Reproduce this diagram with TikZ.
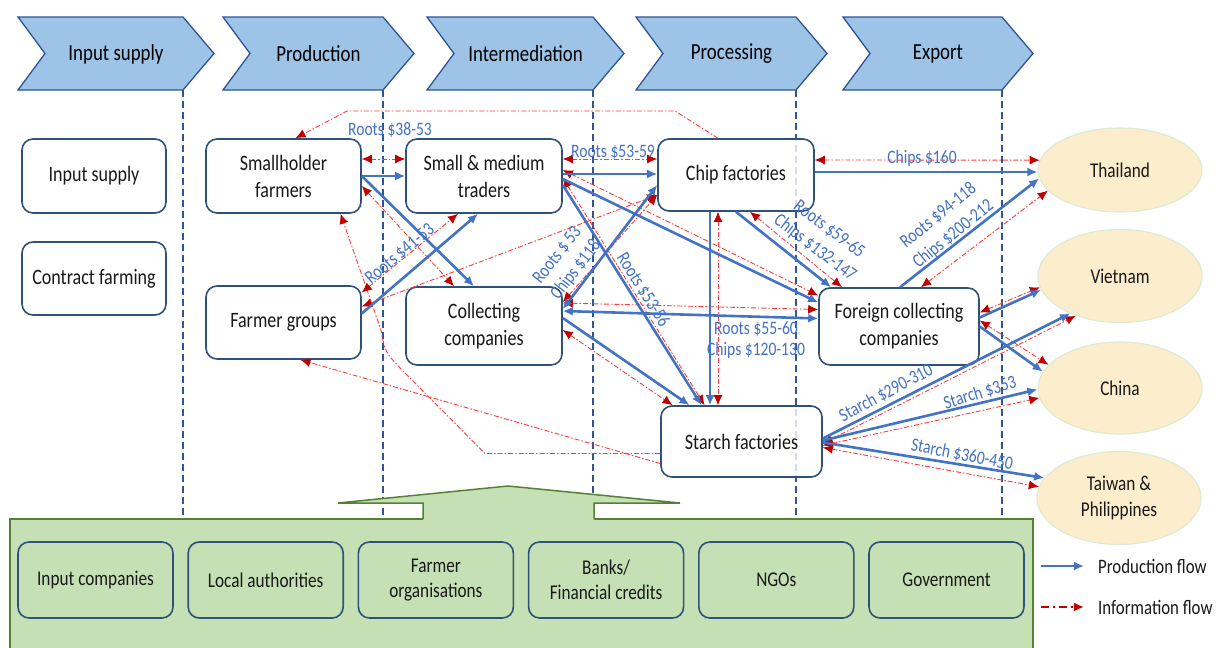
\documentclass[tikz,border=0pt]{standalone}
\usepackage{fontspec}
\setmainfont{Carlito}[FakeStretch=0.82]
\usetikzlibrary{arrows.meta,positioning,calc,shapes.geometric}
\definecolor{stagefill}{RGB}{157,195,230}
\definecolor{stageline}{RGB}{47,85,151}
\definecolor{boxline}{RGB}{47,82,122}
\definecolor{prodblue}{RGB}{68,114,196}
\definecolor{infored}{RGB}{250,60,60}
\definecolor{headred}{RGB}{192,0,0}
\definecolor{govfill}{RGB}{197,224,180}
\definecolor{govline}{RGB}{84,130,53}
\definecolor{countryfill}{RGB}{252,238,204}
\definecolor{countryline}{RGB}{220,236,210}
\tikzset{
  stage/.style={fill=stagefill, draw=stageline, line width=1.3pt, line join=miter},
  stagetext/.style={font=\fontsize{23}{27}\selectfont},
  stagedash/.style={draw=stageline, line width=1.2pt, dash pattern=on 7pt off 4pt},
  actor/.style={draw=boxline, line width=1.6pt, rounded corners=11pt, fill=white,
    fill opacity=0.8, text opacity=1, align=center, text=black!90,
    font=\fontsize{22}{27}\selectfont},
  country/.style={ellipse, fill=countryfill, draw=countryline, line width=1.2pt,
    minimum width=164pt, align=center, text=black!90, font=\fontsize{21}{26}\selectfont},
  support/.style={actor, fill=govfill, minimum width=155pt, minimum height=76pt,
    font=\fontsize{21}{25}\selectfont},
  govbox/.style={fill=govfill, draw=govline, line width=1.5pt},
  prod/.style={draw=prodblue, line width=2.6pt, >={Latex[length=10pt,width=9pt]}},
  info/.style={draw=infored, line width=0.9pt, dash pattern=on 5pt off 2pt on 1.5pt off 2pt,
    >={Latex[length=10pt,width=9pt,color=headred]}},
  price/.style={text=prodblue, font=\fontsize{19}{21}\selectfont, align=center, inner sep=0pt},
  slantprice/.style={price, font=\fontsize{19}{23.5}\selectfont},
  legendtext/.style={font=\fontsize{20.5}{24}\selectfont, text=black!90, inner sep=0pt},
}
\begin{document}
\begin{tikzpicture}[x=1pt,y=-1pt]
\useasboundingbox (0,0) rectangle (1216,648);
\fill[white] (0,0) rectangle (1216,648);

% stages of the chain
\foreach \xl/\xr/\nm/\txt in {18/183/inp/Input supply, 223/383/prd/Production,
    427/593/itm/Intermediation, 636/796/prc/Processing, 843/1002/exp/Export}{
  \draw[stage] (\xl,17) -- (\xr,17) -- (\xr+31,53.5) -- (\xr,90) -- (\xl,90)
    -- (\xl+27,53.5) -- cycle;
  \node[stagetext] (\nm) at ({(\xl+27+\xr)/2+2},54) {\txt};
  \draw[stagedash] (\xr,90) -- (\xr,519);
}

% supporting institutions
\draw[govbox] (10,519) rectangle (1033,660);
\fill[govfill] (423,521) -- (423,503) -- (338,503) -- (508,486) -- (680,503)
  -- (594,503) -- (594,521) -- cycle;
\draw[govline, line width=1.5pt] (423,519) -- (423,503) -- (338,503) -- (508,486)
  -- (680,503) -- (594,503) -- (594,519);
\foreach \i/\txt in {0/Input companies, 1/Local authorities, 2/{Farmer\\organisations},
    3/{Banks/\\Financial credits}, 4/NGOs, 5/Government}
  \node[support] (sup\i) at ({95.5+170.2*\i},580) {\txt};

% actors
\node[actor, minimum width=144pt, minimum height=74pt] (insup) at (94,176) {Input supply};
\node[actor, minimum width=144pt, minimum height=73pt] (contract) at (94,278.5) {Contract farming};
\node[actor, minimum width=155pt, minimum height=74pt] (small) at (283.5,176) {Smallholder\\farmers};
\node[actor, minimum width=155pt, minimum height=73pt] (fgroup) at (283.5,322.5) {Farmer groups};
\node[actor, minimum width=156pt, minimum height=74pt] (trader) at (484,176) {Small \& medium\\traders};
\node[actor, minimum width=156pt, minimum height=78pt] (collect) at (484,326) {Collecting\\companies};
\node[actor, minimum width=156pt, minimum height=72pt] (chip) at (736,175) {Chip factories};
\node[actor, minimum width=160pt, minimum height=77pt] (foreign) at (899,326.5) {Foreign collecting\\companies};
\node[actor, minimum width=161pt, minimum height=71pt] (starch) at (741.5,441.5) {Starch factories};

\node[country, minimum height=84pt] (thai) at (1120,170) {Thailand};
\node[country, minimum height=93pt] (viet) at (1120,276) {Vietnam};
\node[country, minimum height=92pt] (china) at (1120,388) {China};
\node[country, minimum height=93pt] (taiwan) at (1119,498) {Taiwan \&\\Philippines};

% information flow
\coordinate (topr) at (675,111);
\coordinate (topl) at (347,111);
\coordinate (lowbend) at (485,453.5);
\draw[info,<->] ([shift={(0,-17)}]small.east) -- ([shift={(0,-17)}]trader.west);
\draw[info,->] ([shift={(-18,0)}]chip.north) -- (topr) -- (topl) -- ([shift={(12,0)}]small.north);
\draw[info,<->] ([shift={(0,10)}]small.east) -- ([shift={(-30,0)}]collect.north);
\draw[info,->] ([shift={(0,12)}]starch.west) -- (lowbend) -- (402,370)
  .. controls (385,352) .. (381,330) -- ([shift={(57,0)}]small.south);
\draw[info,->] ([shift={(0,22)}]starch.west) -- ([shift={(17,0)}]fgroup.south);
\draw[info,<->] ([shift={(0,-30)}]fgroup.east) -- ([shift={(-26,0)}]trader.south);
\draw[info,<->] ([shift={(0,-16)}]fgroup.east) -- ([shift={(0,20)}]chip.west);
\draw[info,<->] ([shift={(0,-17)}]trader.east) -- ([shift={(0,-16)}]chip.west);
\draw[info,<->] ([shift={(0,-6)}]trader.east) -- ([shift={(0,-31)}]foreign.west);
\draw[info,<->] ([shift={(0,2)}]trader.east) -- ([shift={(-37,0)}]starch.north);
\draw[info,<->] ([shift={(0,-24)}]collect.east) -- ([shift={(0,20)}]chip.west);
\draw[info,<->] ([shift={(0,-23)}]collect.east) -- ([shift={(0,-17)}]foreign.west);
\draw[info,<->] ([shift={(0,4)}]collect.east) -- ([shift={(-69,0)}]starch.north);
\draw[info,<->] ([shift={(-18,0)}]chip.south) -- ([shift={(-23.5,0)}]starch.north);
\draw[info,<->] ([shift={(14,0)}]chip.south) -- ([shift={(-57,0)}]foreign.north);
\draw[info,<->] ([shift={(0,-15)}]chip.east) -- (thai.173);
\draw[info,<->] ([shift={(22,0)}]foreign.north) -- (thai.196);
\draw[info,<->] ([shift={(0,-14)}]foreign.east) -- (viet.188);
\draw[info,<->] ([shift={(0,-6)}]foreign.east) -- (china.162);
\draw[info,<->] ([shift={(0,2)}]starch.east) -- (viet.222);
\draw[info,<->] ([shift={(0,4)}]starch.east) -- (china.187);
\draw[info,<->] ([shift={(0,6)}]starch.east) -- (taiwan.172);

% production flow
\draw[prod,->] (small.east) -- (trader.west);
\draw[prod,->] (small.east) -- ([shift={(-10,0)}]collect.north);
\draw[prod,->] ([shift={(0,-9)}]fgroup.east) -- ([shift={(-6,0)}]trader.south);
\draw[prod,->] ([shift={(0,-2)}]trader.east) -- ([shift={(0,-1)}]chip.west);
\draw[prod,->] ([shift={(0,3)}]trader.east) -- ([shift={(0,-24)}]foreign.west);
\draw[prod,->] ([shift={(0,9)}]trader.east) -- ([shift={(-40,0)}]starch.north);
\draw[prod,<->] ([shift={(0,-17)}]collect.east) -- ([shift={(0,10)}]chip.west);
\draw[prod,<->] ([shift={(0,-15)}]collect.east) -- ([shift={(0,-8)}]foreign.west);
\draw[prod,->] ([shift={(0,-8)}]collect.east) -- ([shift={(-52,0)}]starch.north);
\draw[prod,->] ([shift={(-26,0)}]chip.south) -- ([shift={(-31.5,0)}]starch.north);
\draw[prod,->] (chip.south) -- ([shift={(-68,0)}]foreign.north);
\draw[prod,->] ([shift={(0,-3)}]chip.east) -- ([shift={(0,2)}]thai.west);
\draw[prod,->] ([shift={(1,0)}]foreign.north) -- (thai.186);
\draw[prod,->] ([shift={(0,-9)}]foreign.east) -- (viet.190);
\draw[prod,->] (foreign.east) -- (china.168);
\draw[prod,->] ([shift={(0,-3)}]starch.east) -- (viet.217);
\draw[prod,->] ([shift={(0,-1)}]starch.east) -- (china.181);
\draw[prod,->] ([shift={(0,1)}]starch.east) -- (taiwan.165);

% prices
\node[price] (p1) at (390,130) {Roots \$38-53};
\node[price] (p2) at (613,152) {Roots \$53-59};
\node[price] (p3) at (922,158) {Chips \$160};
\node[price, rotate=40] (p4) at (400,254) {Roots \$41-53};
\node[slantprice, rotate=52] (p5) at (567,263) {Roots \$ 53\\Chips \$118};
\node[price, rotate=-58] (p6) at (643,290) {Roots \$53-56};
\node[price] (p7) at (756,340) {Roots \$55-60\\Chips \$120-130};
\node[slantprice, rotate=-37] (p8) at (822,239) {Roots \$59-65\\Chips \$132-147};
\node[slantprice, rotate=39] (p9) at (946,225) {Roots \$94-118\\Chips \$200-212};
\node[price, rotate=28] (p10) at (886,393) {Starch \$290-310};
\node[price, rotate=17] (p11) at (980,393) {Starch \$353};
\node[price, rotate=-11] (p12) at (962,455) {Starch \$360-450};

% legend
\coordinate (pl1) at (1041,566);
\coordinate (pl2) at (1084,566);
\coordinate (il1) at (1041,607);
\coordinate (il2) at (1084,607);
\draw[prod,->] (pl1) -- (pl2);
\draw[info,->, draw=headred, line width=2.2pt, dash pattern=on 8pt off 4pt on 2pt off 4pt] (il1) -- (il2);
\node[legendtext, right=14pt of pl2] (pltext) {Production flow};
\node[legendtext, right=14pt of il2] (iltext) {Information flow};
\end{tikzpicture}
\end{document}
